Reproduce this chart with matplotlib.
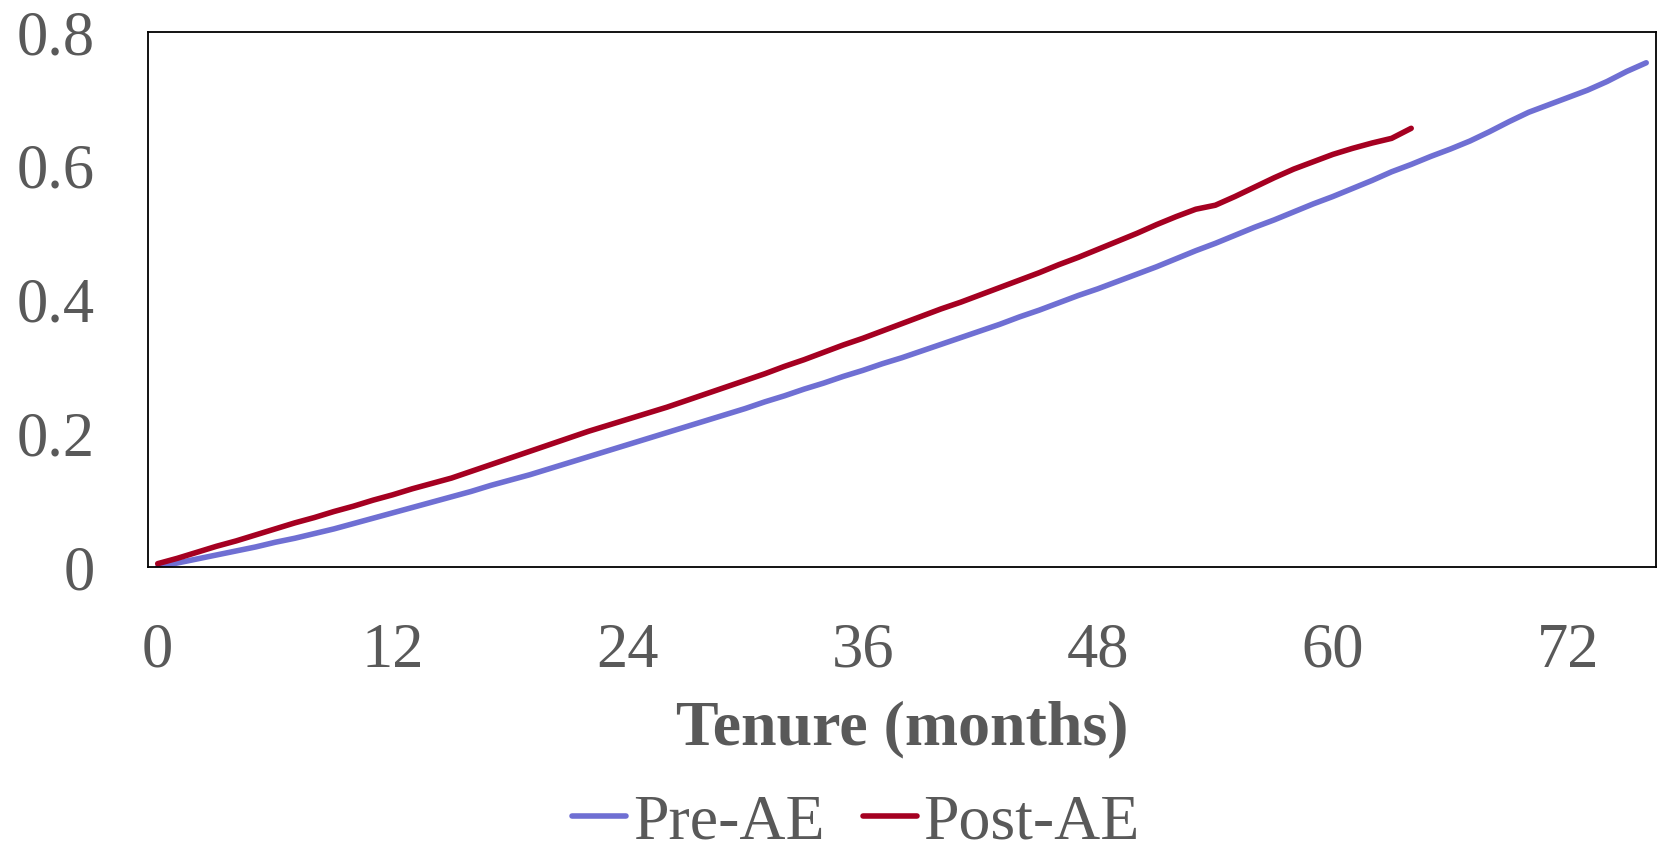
import matplotlib
matplotlib.use("Agg")
import matplotlib.pyplot as plt
import numpy as np

# Cumulative share by tenure month
pre_ae = [
    0.000, 0.006, 0.012, 0.018, 0.024, 0.030, 0.037, 0.043, 0.050, 0.057,
    0.065, 0.073, 0.081, 0.089, 0.097, 0.105, 0.113, 0.122, 0.130, 0.138,
    0.147, 0.156, 0.165, 0.174, 0.183, 0.192, 0.201, 0.210, 0.219, 0.228,
    0.237, 0.247, 0.256, 0.266, 0.275, 0.285, 0.294, 0.304, 0.313, 0.323,
    0.333, 0.343, 0.353, 0.363, 0.374, 0.384, 0.395, 0.406, 0.416, 0.427,
    0.438, 0.449, 0.461, 0.473, 0.484, 0.496, 0.508, 0.519, 0.531, 0.543,
    0.554, 0.566, 0.578, 0.591, 0.602, 0.614, 0.625, 0.637, 0.651, 0.666,
    0.680, 0.691, 0.702, 0.713, 0.726, 0.741, 0.754,
]
post_ae = [
    0.005, 0.013, 0.022, 0.031, 0.039, 0.048, 0.057, 0.066, 0.074, 0.083,
    0.091, 0.100, 0.108, 0.117, 0.125, 0.133, 0.143, 0.153, 0.163, 0.173,
    0.183, 0.193, 0.203, 0.212, 0.221, 0.230, 0.239, 0.249, 0.259, 0.269,
    0.279, 0.289, 0.300, 0.310, 0.321, 0.332, 0.342, 0.353, 0.364, 0.375,
    0.386, 0.396, 0.407, 0.418, 0.429, 0.440, 0.452, 0.463, 0.475, 0.487,
    0.499, 0.512, 0.524, 0.535, 0.541, 0.554, 0.568, 0.582, 0.595, 0.606,
    0.617, 0.626, 0.634, 0.641, 0.656,
]
x_ticks = [0, 12, 24, 36, 48, 60, 72]
y_ticks = [0, 0.2, 0.4, 0.6, 0.8]
y_tick_labels = ["0", "0.2", "0.4", "0.6", "0.8"]

text_color = "#595959"
plt.rcParams["font.family"] = ["Liberation Serif", "DejaVu Serif"]

fig = plt.figure(figsize=(16.62, 8.56), dpi=100)
ax = fig.add_axes([0.0890, 0.3376, 0.9074, 0.6250])

months_pre = np.arange(len(pre_ae))
months_post = np.arange(len(post_ae))
ax.plot(months_pre, pre_ae, color="#6F6FD3", lw=4.0, solid_capstyle="round",
        label="Pre-AE")
ax.plot(months_post, post_ae, color="#A50021", lw=4.0, solid_capstyle="round",
        label="Post-AE")

ax.set_xlim(-0.5, 76.5)
ax.set_ylim(0, 0.8)
ax.set_xticks(x_ticks)
ax.set_xticklabels([str(t) for t in x_ticks])
ax.set_yticks(y_ticks)
ax.set_yticklabels(y_tick_labels)
ax.tick_params(axis="both", length=0, labelsize=45, labelcolor=text_color)
ax.tick_params(axis="x", pad=40)
ax.tick_params(axis="y", pad=38)

for spine in ax.spines.values():
    spine.set_color("black")
    spine.set_linewidth(1.3)

ax.set_xlabel("Tenure (months)", fontsize=46, fontweight="bold",
              color=text_color, labelpad=14)

leg = fig.legend(loc="lower center", bbox_to_anchor=(0.515, -0.033), ncol=2,
                 frameon=False, fontsize=46, handlelength=0.85,
                 handletextpad=0.1, columnspacing=0.6, borderpad=0.0)
for t in leg.get_texts():
    t.set_color(text_color)

fig.savefig("out.png", dpi=100)
